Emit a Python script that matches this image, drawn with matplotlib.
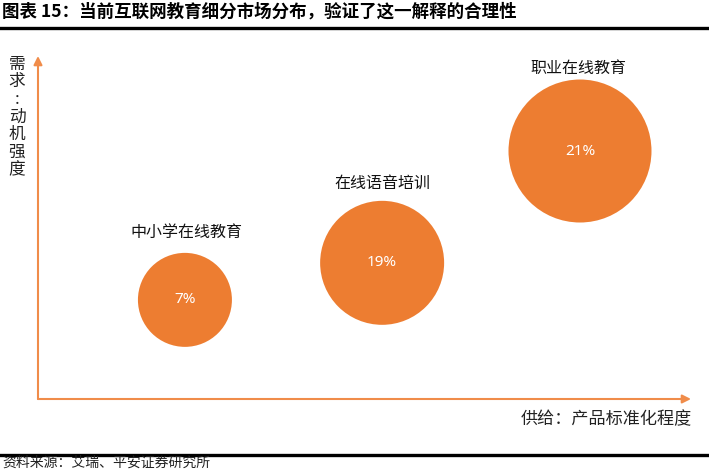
import matplotlib
matplotlib.use("Agg")
import matplotlib.pyplot as plt
from matplotlib.lines import Line2D

plt.rcParams['font.family'] = ['Noto Sans CJK SC', 'DejaVu Sans']

# segments: supply score (x), demand score (y), share, bubble area (pt^2)
segments = ['中小学在线教育', '在线语音培训', '职业在线教育']
supply = [22.5, 52.7, 83.0]
demand = [28.9, 39.7, 72.3]
share = [7, 19, 21]
bubble_area = [4580, 7970, 10600]
label_x = [22.8, 52.8, 82.7]
label_y = [48.7, 63.0, 96.5]

orange = '#ED7D31'
axis_col = '#F08C4A'

fig = plt.figure(figsize=(7.09, 4.72), dpi=100)
ax = fig.add_axes([38/709, 73/472, 653/709, 343/472])
ax.set_xlim(0, 100)
ax.set_ylim(0, 100)
ax.axis('off')

ax.scatter(supply, demand, s=bubble_area, color=orange, edgecolors='none', zorder=3)
for i in range(len(segments)):
    ax.text(supply[i], demand[i], '{}%'.format(share[i]), color='white',
            fontsize=11, ha='center', va='center', family=['Noto Sans', 'DejaVu Sans'], zorder=4)
    ax.text(label_x[i], label_y[i], segments[i], fontsize=11.5, ha='center', va='center',
            color='#111111')

# axes with arrows
arrow = dict(arrowstyle='-|>,head_length=0.5,head_width=0.25', color=axis_col, lw=1.5,
             shrinkA=0, shrinkB=0)
ax.annotate('', xy=(1, 0), xytext=(0, 0), xycoords='axes fraction', arrowprops=arrow)
ax.annotate('', xy=(0, 1), xytext=(0, 0), xycoords='axes fraction', arrowprops=arrow)

fig.text(17/709, 1 - 117/472, '\n'.join('需求:动机强度'), fontsize=12, ha='center', va='center',
         linespacing=1.05, color='#222222')
fig.text(692/709, 1 - 419/472, '供给：产品标准化程度', fontsize=12.3, ha='right', va='center',
         color='#222222')

# title and source
fig.text(2/709, 1 - 12/472, '图表 15：当前互联网教育细分市场分布，验证了这一解释的合理性',
         fontsize=12.6, fontweight='bold', ha='left', va='center')
fig.add_artist(Line2D([0, 1], [1 - 27.5/472, 1 - 27.5/472], color='black', lw=2.4))
fig.add_artist(Line2D([0, 1], [1 - 454.5/472, 1 - 454.5/472], color='black', lw=2.4))
fig.text(2/709, 1 - 463/472, '资料来源：艾瑞、平安证券研究所', fontsize=10, style='italic',
         ha='left', va='center', color='#222222')

fig.savefig('out.png', dpi=100)
